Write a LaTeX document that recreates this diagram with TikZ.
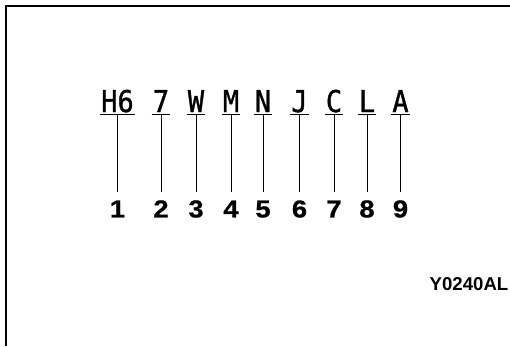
\documentclass[tikz,border=0pt]{standalone}
\usepackage{fontspec}
\setmainfont{Liberation Sans}
\newfontfamily\codefont[FakeStretch=0.9, FakeBold=1.2]{DejaVu Sans Mono}
\newfontfamily\digitfont[FakeStretch=1.12, FakeBold=0.8]{Liberation Sans}
\usepackage{tikz}
\usetikzlibrary{positioning}

\tikzset{
  frameline/.style={line width=1.4pt},
  underline/.style={line width=1.4pt},
  leader/.style={line width=0.8pt},
}

\begin{document}
\begin{tikzpicture}[x=1pt, y=1pt,
  code/.style={font=\codefont\fontsize{30}{30}\selectfont, anchor=base, inner xsep=1pt, inner ysep=2.5pt, text depth=0pt},
  digit/.style={font=\digitfont\bfseries\fontsize{24.5}{24.5}\selectfont, inner xsep=0pt, inner ysep=8pt, text height=17pt, text depth=0pt},
]
\useasboundingbox (0,0) rectangle (510,346);

% Frame
\coordinate (fbl) at (5.8,0);
\coordinate (ftr) at (510,340);
\draw[frameline] (fbl) |- (ftr);

% Code letters
\node[code] (c1) at (117.5,234) {H6};
\node[code] (c2) at (161,234) {7};
\node[code] (c3) at (196,234) {W};
\node[code] (c4) at (231,234) {M};
\node[code] (c5) at (263,234) {N};
\node[code] (c6) at (299.5,234) {J};
\node[code] (c7) at (334,234) {C};
\node[code] (c8) at (367,234) {L};
\node[code] (c9) at (400.5,234) {A};

% Position numbers
\node[digit, below=77.5pt of c1] (d1) {1};
\node[digit, below=77.5pt of c2] (d2) {2};
\node[digit, below=77.5pt of c3] (d3) {3};
\node[digit, below=77.5pt of c4] (d4) {4};
\node[digit, below=77.5pt of c5] (d5) {5};
\node[digit, below=77.5pt of c6] (d6) {6};
\node[digit, below=77.5pt of c7] (d7) {7};
\node[digit, below=77.5pt of c8] (d8) {8};
\node[digit, below=77.5pt of c9] (d9) {9};

% Underlines
\draw[underline] (c1.south west) -- (c1.south east);
\draw[underline] (c2.south west) -- (c2.south east);
\draw[underline] (c3.south west) -- (c3.south east);
\draw[underline] (c4.south west) -- (c4.south east);
\draw[underline] (c5.south west) -- (c5.south east);
\draw[underline] (c6.south west) -- (c6.south east);
\draw[underline] (c7.south west) -- (c7.south east);
\draw[underline] (c8.south west) -- (c8.south east);
\draw[underline] (c9.south west) -- (c9.south east);

% Leaders
\draw[leader] (c1.south) -- (d1.north);
\draw[leader] (c2.south) -- (d2.north);
\draw[leader] (c3.south) -- (d3.north);
\draw[leader] (c4.south) -- (d4.north);
\draw[leader] (c5.south) -- (d5.north);
\draw[leader] (c6.south) -- (d6.north);
\draw[leader] (c7.south) -- (d7.north);
\draw[leader] (c8.south) -- (d8.north);
\draw[leader] (c9.south) -- (d9.north);

% Figure code
\node[font=\bfseries\fontsize{18.6}{18.6}\selectfont, anchor=base east, inner sep=0pt] (figid) at (508.5,56) {Y0240AL};

\end{tikzpicture}
\end{document}
